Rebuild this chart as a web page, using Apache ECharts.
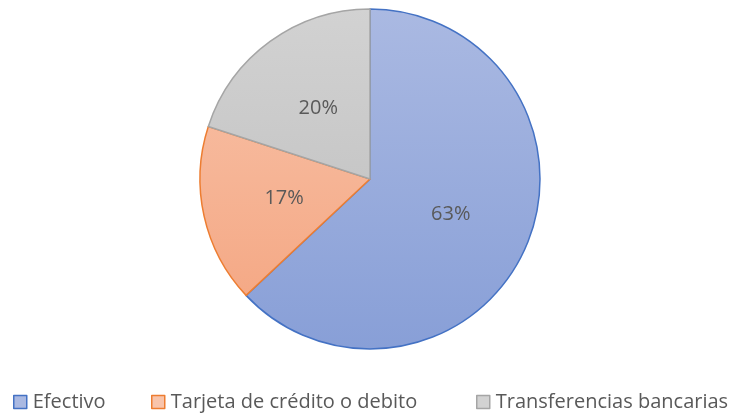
<!DOCTYPE html>
<html>
<head>
<meta charset="utf-8">
<script src="https://cdn.jsdelivr.net/npm/echarts@6/dist/echarts.min.js"></script>
<style>html,body{margin:0;padding:0;background:#fff;}#c{width:740px;height:413px;}</style>
</head>
<body>
<div id="c"></div>
<script>
const categories = ['Efectivo', 'Tarjeta de crédito o debito', 'Transferencias bancarias'];
const values = [63, 17, 20];
const topColors = ['#aab9e2', '#f8c4ab', '#d2d2d2'];
const bottomColors = ['#889fd7', '#f4a47f', '#bcbcbc'];
const borderColors = ['#4472c4', '#ed7d31', '#a5a5a5'];
const legendLefts = [13, 151, 476];

const chart = echarts.init(document.getElementById('c'));
const cx = 370, cy = 179, r = 170;
const data = categories.map((n, i) => ({
  name: n,
  value: values[i],
  itemStyle: {
    color: new echarts.graphic.LinearGradient(0, cy - r, 0, cy + r, [
      {offset: 0, color: topColors[i]}, {offset: 1, color: bottomColors[i]}
    ], true),
    borderColor: borderColors[i],
    borderWidth: 1.5
  }
}));
const legends = categories.map((n, i) => ({
  show: true,
  left: legendLefts[i],
  top: 392,
  icon: 'rect',
  itemWidth: 13,
  itemHeight: 13,
  itemGap: 8,
  padding: 0,
  textStyle: {color: '#595959', fontSize: 20, fontFamily: 'Open Sans', padding: [0, 0, 0, 1]},
  data: [{name: n, itemStyle: {color: topColors[i], borderColor: borderColors[i], borderWidth: 1.5}}]
}));
chart.setOption({
  animation: false,
  legend: legends,
  series: [{
    type: 'pie',
    center: [cx, cy],
    radius: [0, r],
    startAngle: 90,
    clockwise: true,
    data: data,
    label: {
      show: true,
      position: 'inner',
      formatter: p => Math.round(p.percent) + '%',
      color: '#595959',
      fontSize: 20,
      fontFamily: 'Open Sans'
    },
    labelLine: {show: false},
    emphasis: {disabled: true}
  }]
});
</script>
</body>
</html>
